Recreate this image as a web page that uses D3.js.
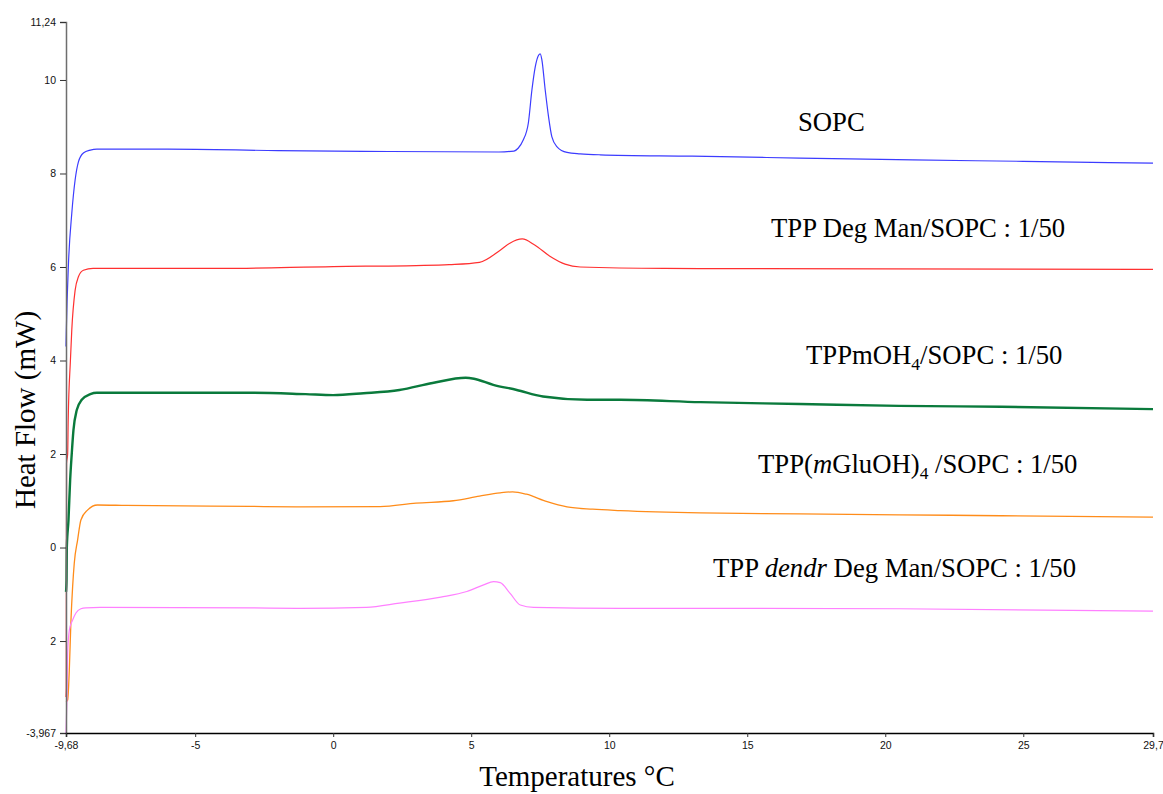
<!DOCTYPE html>
<html>
<head>
<meta charset="utf-8">
<script src="https://cdn.jsdelivr.net/npm/d3@7/dist/d3.min.js"></script>
<style>
  html, body { margin: 0; padding: 0; background: #fff; }
  svg { display: block; }
</style>
</head>
<body>
<svg id="chart" width="1163" height="794"></svg>
<script>
// ---- data (temperature °C, heat flow mW) ----
const xTickValues = [-9.68, -5, 0, 5, 10, 15, 20, 25, 29.7];
const xTickLabels = ["-9,68", "-5", "0", "5", "10", "15", "20", "25", "29,7"];
const yTickValues = [11.24, 10, 8, 6, 4, 2, 0, -2, -3.967];
const yTickLabels = ["11,24", "10", "8", "6", "4", "2", "0", "2", "-3,967"];

const sopc = [
  [-9.68, 4.3], [-9.67, 4.6], [-9.59, 6.08], [-9.47, 7.15], [-9.35, 7.86], [-9.23, 8.25],
  [-9.05, 8.44], [-8.8, 8.5], [-8.56, 8.52], [-6, 8.52], [-2, 8.49], [2, 8.47], [6.0, 8.46],
  [6.55, 8.48], [6.70, 8.54], [6.88, 8.71], [7.07, 9.08], [7.20, 9.79], [7.32, 10.28],
  [7.44, 10.53], [7.50, 10.56], [7.56, 10.43], [7.68, 9.79], [7.80, 9.22], [7.92, 8.79],
  [8.11, 8.57], [8.47, 8.45], [8.95, 8.42], [9.67, 8.40], [13, 8.37], [16.9, 8.33],
  [21, 8.29], [25, 8.26], [29.7, 8.22]
];
const degMan = [
  [-9.68, -3.2], [-9.67, -3.0], [-9.66, 1.8], [-9.62, 2.0], [-9.6, 2.73], [-9.52, 4.0],
  [-9.47, 4.66], [-9.35, 5.5], [-9.23, 5.79], [-9.05, 5.93], [-8.7, 5.97], [-4, 5.97],
  [0, 6.01], [3, 6.03], [4.2, 6.05], [5.3, 6.1], [6.05, 6.36], [6.4, 6.51], [6.85, 6.60],
  [7.3, 6.47], [7.85, 6.23], [8.4, 6.06], [8.95, 6.0], [12, 5.97], [20, 5.96], [29.7, 5.95]
];
const mOH4 = [
  [-9.68, -0.95], [-9.66, -0.7], [-9.65, 0.0], [-9.59, 0.59], [-9.53, 1.44], [-9.47, 2.02],
  [-9.41, 2.51], [-9.29, 2.94], [-9.11, 3.16], [-8.8, 3.28], [-8.56, 3.31], [-3, 3.31],
  [-1, 3.28], [0, 3.26], [1.1, 3.30], [2.4, 3.37], [3.6, 3.52], [4.8, 3.63], [5.1, 3.61],
  [5.8, 3.48], [6.65, 3.37], [7.6, 3.23], [9.2, 3.16], [10.4, 3.16], [13.3, 3.11],
  [16.9, 3.07], [20.5, 3.03], [24.2, 3.01], [29.7, 2.96]
];
const mGluOH4 = [
  [-9.68, -3.3], [-9.62, -3.26], [-9.56, -2.62], [-9.5, -1.55], [-9.44, -0.84],
  [-9.38, -0.33], [-9.26, 0.16], [-9.14, 0.59], [-8.9, 0.80], [-8.54, 0.91], [-7.5, 0.9],
  [-3, 0.88], [-1.2, 0.87], [1.7, 0.875], [3.0, 0.95], [4.35, 1.0], [5.3, 1.10], [6.05, 1.17],
  [6.5, 1.19], [7.0, 1.14], [7.75, 0.98], [8.47, 0.87], [9.4, 0.82], [10.4, 0.79],
  [13.3, 0.74], [16.9, 0.72], [20.5, 0.70], [24.2, 0.68], [29.7, 0.65]
];
const dendrDegMan = [
  [-9.68, -3.97], [-9.65, -3.33], [-9.62, -2.26], [-9.56, -1.77], [-9.44, -1.55],
  [-9.32, -1.40], [-9.14, -1.31], [-8.96, -1.29], [-8.44, -1.28], [-3, -1.29],
  [-1.2, -1.30], [1.2, -1.28], [2.4, -1.19], [3.9, -1.06], [4.84, -0.94], [5.45, -0.80],
  [5.81, -0.73], [6.05, -0.75], [6.41, -0.98], [6.78, -1.23], [7.26, -1.28], [10.4, -1.30],
  [13.3, -1.30], [20.5, -1.31], [29.7, -1.36]
];

const series = [
  { name: "SOPC", values: sopc, color: "#3c3cff", width: 1.2 },
  { name: "TPP Deg Man/SOPC : 1/50", values: degMan, color: "#ff3030", width: 1.2 },
  { name: "TPPmOH4/SOPC : 1/50", values: mOH4, color: "#0a7a3c", width: 2.4 },
  { name: "TPP(mGluOH)4 /SOPC : 1/50", values: mGluOH4, color: "#ff8c1a", width: 1.3 },
  { name: "TPP dendr Deg Man/SOPC : 1/50", values: dendrDegMan, color: "#ff80ff", width: 1.2 }
];

// ---- layout ----
const svg = d3.select("#chart");
const x = d3.scaleLinear().domain([-9.68, 29.7]).range([66, 1153]);
const y = d3.scaleLinear().domain([-3.967, 11.24]).range([733, 22]);

// curves
const line = d3.line().x(d => x(d[0])).y(d => y(d[1])).curve(d3.curveMonotoneX);
svg.append("g").selectAll("path").data(series).join("path")
  .attr("fill", "none")
  .attr("stroke", d => d.color)
  .attr("stroke-width", d => d.width)
  .attr("stroke-linejoin", "round")
  .attr("d", d => line(d.values));

// y axis
const yAxis = d3.axisLeft(y).tickValues(yTickValues)
  .tickFormat((d, i) => yTickLabels[i]).tickSize(6).tickPadding(4);
const gy = svg.append("g").attr("transform", "translate(66,0)").call(yAxis);
gy.select(".domain").attr("stroke", "#6e6e6e").attr("stroke-width", 1.5);
gy.selectAll(".tick line").attr("stroke", "#333");
gy.selectAll(".tick text").attr("font-family", "Liberation Sans, Arial, sans-serif")
  .attr("font-size", 10.5).attr("fill", "#111");

// x axis
const xAxis = d3.axisBottom(x).tickValues(xTickValues)
  .tickFormat((d, i) => xTickLabels[i]).tickSize(4).tickPadding(5);
const gx = svg.append("g").attr("transform", "translate(0,733)").call(xAxis);
gx.select(".domain").attr("stroke", "#000").attr("stroke-width", 1.5);
gx.selectAll(".tick line").attr("stroke", "#333");
gx.selectAll(".tick text").attr("font-family", "Liberation Sans, Arial, sans-serif")
  .attr("font-size", 10.5).attr("fill", "#111");

// axis titles
const serif = "Liberation Serif, 'Times New Roman', serif";
svg.append("text").attr("transform", "translate(35,410) rotate(-90)")
  .attr("text-anchor", "middle").attr("font-family", serif).attr("font-size", 29)
  .text("Heat Flow (mW)");
svg.append("text").attr("x", 577).attr("y", 786)
  .attr("text-anchor", "middle").attr("font-family", serif).attr("font-size", 29)
  .text("Temperatures °C");

// series labels
const lab = svg.append("g").attr("font-family", serif).attr("font-size", 26.7).attr("fill", "#000");
lab.append("text").attr("x", 798).attr("y", 131).text("SOPC");
lab.append("text").attr("x", 771).attr("y", 237).text("TPP Deg Man/SOPC : 1/50");
const t3 = lab.append("text").attr("x", 806).attr("y", 364);
t3.append("tspan").text("TPPmOH");
t3.append("tspan").attr("font-size", 17.5).attr("dy", 6).text("4");
t3.append("tspan").attr("dy", -6).text("/SOPC : 1/50");
const t4 = lab.append("text").attr("x", 758).attr("y", 473);
t4.append("tspan").text("TPP(");
t4.append("tspan").attr("font-style", "italic").text("m");
t4.append("tspan").text("GluOH)");
t4.append("tspan").attr("font-size", 17.5).attr("dy", 6).text("4");
t4.append("tspan").attr("dy", -6).text(" /SOPC : 1/50");
const t5 = lab.append("text").attr("x", 713).attr("y", 577);
t5.append("tspan").text("TPP ");
t5.append("tspan").attr("font-style", "italic").text("dendr");
t5.append("tspan").text(" Deg Man/SOPC : 1/50");
</script>
</body>
</html>
